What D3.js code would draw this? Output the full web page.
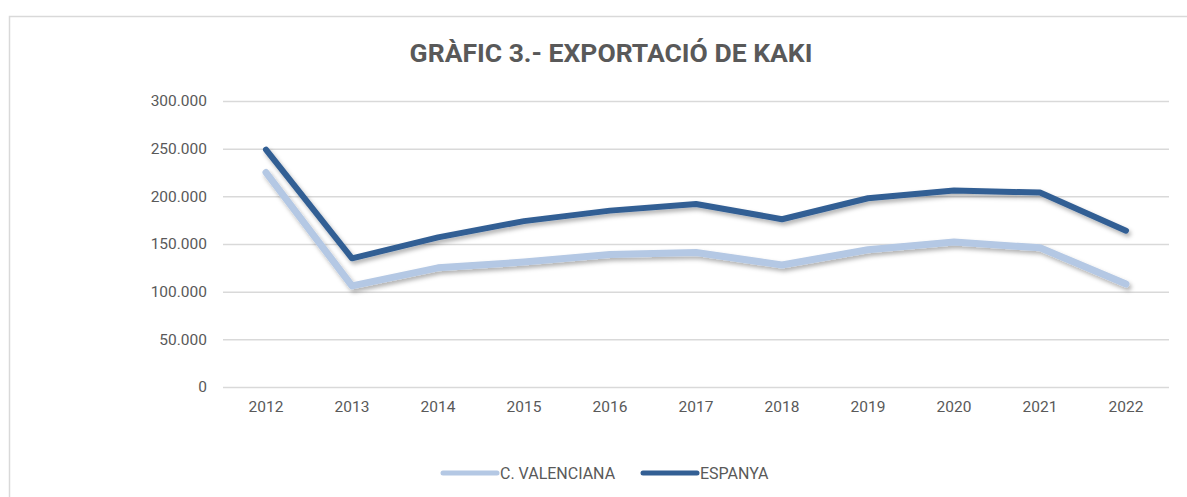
<!DOCTYPE html>
<html>
<head>
<meta charset="utf-8">
<script src="https://cdn.jsdelivr.net/npm/d3@7"></script>
<style>
  body { margin: 0; background: #fff; }
  text { font-family: Roboto, "Noto Sans", sans-serif; fill: #595959; }
</style>
</head>
<body>
<div id="chart"></div>
<script>
var years = ['2012','2013','2014','2015','2016','2017','2018','2019','2020','2021','2022']
var valenciana = [225000, 106000, 125000, 131000, 139000, 141000, 128000, 144000, 152000, 146000, 108000]
var espanya = [249000, 135000, 157000, 174000, 185000, 192000, 176000, 198000, 206000, 204000, 164000]
var yTicks = [0, 50000, 100000, 150000, 200000, 250000, 300000]
var seriesNames = ['C. VALENCIANA', 'ESPANYA']
var seriesColors = ['#b4c8e4', '#335f94']

var fullWidth = 1187;
var fullHeight = 497;
var margin = {top: 101, right: 18, bottom: 110, left: 223};
var width = fullWidth - margin.left - margin.right;
var height = fullHeight - margin.top - margin.bottom;

var fmt = d3.formatLocale({decimal: ',', thousands: '.', grouping: [3], currency: ['', ' €']}).format(',d');

var x = d3.scaleBand().domain(years).range([0, width]);
var y = d3.scaleLinear().domain([0, 300000]).range([height, 0]);

var root = d3.select('#chart').append('svg')
  .attr('width', fullWidth)
  .attr('height', fullHeight);

var defs = root.append('defs');
defs.append('filter')
    .attr('id', 'shadow')
    .attr('x', '-10%').attr('y', '-20%')
    .attr('width', '120%').attr('height', '140%')
  .append('feDropShadow')
    .attr('dx', 2).attr('dy', 3)
    .attr('stdDeviation', 2)
    .attr('flood-color', '#000')
    .attr('flood-opacity', 0.3);

// chart frame
root.append('rect')
  .attr('x', 9.5).attr('y', 16.5)
  .attr('width', fullWidth).attr('height', fullHeight)
  .attr('fill', 'none')
  .attr('stroke', '#d9d9d9')
  .attr('stroke-width', 1.5);

root.append('text')
  .attr('x', 611)
  .attr('y', 62)
  .attr('text-anchor', 'middle')
  .style('font-size', '26.5px')
  .style('font-weight', 'bold')
  .text('GRÀFIC 3.- EXPORTACIÓ DE KAKI');

var svg = root.append('g')
  .attr('transform', 'translate(' + margin.left + ',' + margin.top + ')');

// gridlines + y labels
var yAxis = svg.append('g')
  .call(d3.axisLeft(y).tickValues(yTicks).tickSize(-width).tickPadding(16).tickFormat(fmt));
yAxis.select('.domain').remove();
yAxis.selectAll('.tick line').attr('stroke', '#d9d9d9').attr('stroke-width', 1.5);
yAxis.selectAll('.tick text').style('font-size', '15.5px').attr('fill', '#595959');

var xAxis = svg.append('g')
  .attr('transform', 'translate(0,' + height + ')')
  .call(d3.axisBottom(x).tickSize(0).tickPadding(14));
xAxis.select('.domain').remove();
xAxis.selectAll('.tick text').style('font-size', '15.5px').attr('fill', '#595959');

var line = d3.line()
  .x(function(d, i) { return x(years[i]) + x.bandwidth() / 2; })
  .y(function(d) { return y(d); });

var series = [valenciana, espanya];
var widths = [7, 6];
for (var i = 0; i < series.length; i++) {
  svg.append('path')
    .datum(series[i])
    .attr('d', line)
    .attr('fill', 'none')
    .attr('stroke', seriesColors[i])
    .attr('stroke-width', widths[i])
    .attr('stroke-linejoin', 'round')
    .attr('stroke-linecap', 'round')
    .attr('filter', 'url(#shadow)');
}

// legend
var legendX = [443, 643];
var legend = root.append('g').attr('transform', 'translate(0,473)');
for (var j = 0; j < seriesNames.length; j++) {
  legend.append('line')
    .attr('x1', legendX[j]).attr('x2', legendX[j] + 54)
    .attr('y1', 0).attr('y2', 0)
    .attr('stroke', seriesColors[j])
    .attr('stroke-width', 5)
    .attr('stroke-linecap', 'round');
  legend.append('text')
    .attr('x', legendX[j] + 57)
    .attr('y', 5.5)
    .style('font-size', '16px')
    .text(seriesNames[j]);
}
</script>
</body>
</html>
